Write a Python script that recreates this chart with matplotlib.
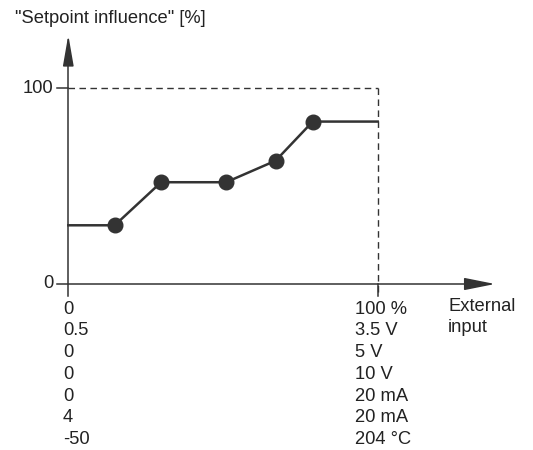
import matplotlib
matplotlib.use("Agg")
import matplotlib.pyplot as plt

# breakpoints of the characteristic (x in % of external input, y in % influence)
x_points = [15, 30, 51, 67, 79]
y_points = [30, 52, 52, 63, 83]
x_start, y_start = 0, 30
x_end, y_end = 100, 83

y_ticks = [0, 100]
left_labels = ["0", "0.5", "0", "0", "0", "4", "-50"]
right_labels = ["100 %", "3.5 V", "5 V", "10 V", "20 mA", "20 mA", "204 \u00b0C"]

plt.rcParams["font.family"] = ["Liberation Sans", "DejaVu Sans"]
ink = "#333333"
text_c = "#222222"
fs = 13.2

fig = plt.figure(figsize=(5.33, 4.5), dpi=100)
ax = fig.add_axes([0, 0, 1, 1])
ax.axis("off")

# map pixels: x=0 -> 68.3px, x=100 -> 377.7px; y=0 -> 284px, y=100 -> 88.3px
x0, y0 = 68.3, 284
sx = (377.7 - x0) / 100
sy = (y0 - 88.3) / 100
ax.set_xlim(-x0 / sx, (533 - x0) / sx)
ax.set_ylim(-(450 - y0) / sy, y0 / sy)


def px(x):
    return (x - x0) / sx


def py(y):
    return (y0 - y) / sy


# axes with arrows
ax.plot([px(57), px(472)], [0, 0], color=ink, lw=1.1)
ax.plot([0, 0], [py(295.5), py(60)], color=ink, lw=1.1)
ax.annotate("", xy=(px(495), 0), xytext=(px(469), 0),
            arrowprops=dict(arrowstyle="-|>,head_length=1.9,head_width=0.38",
                            color=ink, lw=1.1, shrinkA=0, shrinkB=0))
ax.annotate("", xy=(0, py(35)), xytext=(0, py(62)),
            arrowprops=dict(arrowstyle="-|>,head_length=1.9,head_width=0.33",
                            color=ink, lw=1.1, shrinkA=0, shrinkB=0))

# 100 markers
ax.plot([px(57), 0], [100, 100], color=ink, lw=1.1)
ax.plot([0, 100], [100, 100], color=ink, lw=1.0, ls=(0, (4.7, 3.2)))
ax.plot([100, 100], [100, py(295.5)], color=ink, lw=1.0, ls=(0, (4.7, 3.2)))
ax.plot([100, 100], [0, py(295.5)], color=ink, lw=1.1)

for t in y_ticks:
    ax.text(px(53), t, str(t), ha="right", va="center", fontsize=fs, color=text_c)

# characteristic curve
xs = [x_start] + x_points + [x_end]
ys = [y_start] + y_points + [y_end]
ax.plot(xs, ys, color=ink, lw=1.8, solid_joinstyle="round")
ax.plot(x_points, y_points, "o", color=ink, ms=10.5)

# labels
ax.text(px(15), py(18), '"Setpoint influence" [%]',
        ha="left", va="center", fontsize=fs, color=text_c)
ax.text(px(448), py(306.5), "External", ha="left", va="center",
        fontsize=fs, color=text_c)
ax.text(px(448), py(328), "input", ha="left", va="center",
        fontsize=fs, color=text_c)

row0 = 309
row_step = 21.8
for i, (lft, rgt) in enumerate(zip(left_labels, right_labels)):
    yy = py(row0 + i * row_step)
    ax.text(px(63), yy, lft, ha="left", va="center", fontsize=fs, color=text_c)
    ax.text(px(355), yy, rgt, ha="left", va="center", fontsize=fs, color=text_c)

fig.savefig("out.png", dpi=100)
